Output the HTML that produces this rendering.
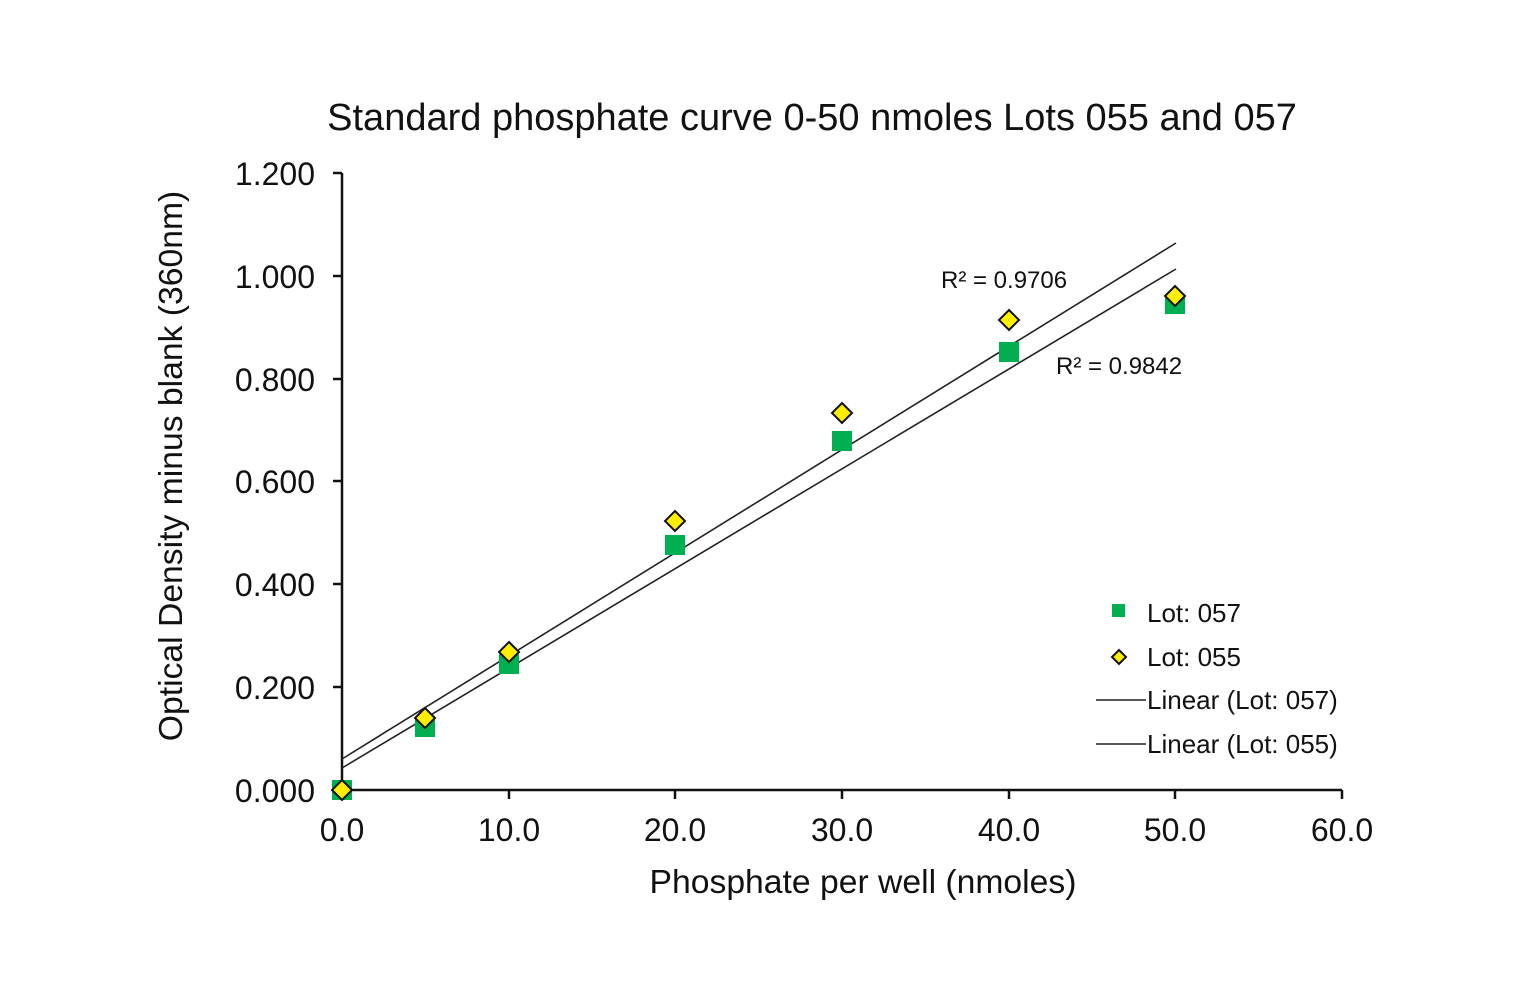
<!DOCTYPE html>
<html><head><meta charset="utf-8"><style>body{margin:0;background:#fff}</style></head><body>
<svg width="1524" height="1000" xmlns="http://www.w3.org/2000/svg" font-family="Liberation Sans, Arial, sans-serif">
<rect width="1524" height="1000" fill="#fff"/>
<text x="812" y="130" font-size="38" text-anchor="middle" fill="#111">Standard phosphate curve 0-50 nmoles Lots 055 and 057</text>
<g stroke="#111" stroke-width="2.5" fill="none">
<line x1="342" y1="173" x2="342" y2="791"/>
<line x1="341" y1="790" x2="1342" y2="790"/>
<line x1="333" y1="173" x2="342" y2="173"/>
<line x1="333" y1="276" x2="342" y2="276"/>
<line x1="333" y1="379" x2="342" y2="379"/>
<line x1="333" y1="481" x2="342" y2="481"/>
<line x1="333" y1="584" x2="342" y2="584"/>
<line x1="333" y1="687" x2="342" y2="687"/>
<line x1="333" y1="790" x2="342" y2="790"/>
<line x1="509" y1="790" x2="509" y2="799"/>
<line x1="675" y1="790" x2="675" y2="799"/>
<line x1="842" y1="790" x2="842" y2="799"/>
<line x1="1009" y1="790" x2="1009" y2="799"/>
<line x1="1175" y1="790" x2="1175" y2="799"/>
<line x1="1342" y1="790" x2="1342" y2="799"/>
</g>
<g font-size="32" fill="#111" text-anchor="end">
<text x="315" y="185">1.200</text><text x="315" y="288">1.000</text><text x="315" y="391">0.800</text>
<text x="315" y="493">0.600</text><text x="315" y="596">0.400</text><text x="315" y="699">0.200</text><text x="315" y="802">0.000</text>
</g>
<g font-size="32" fill="#111" text-anchor="middle">
<text x="342" y="841">0.0</text><text x="509" y="841">10.0</text><text x="675" y="841">20.0</text><text x="842" y="841">30.0</text>
<text x="1009" y="841">40.0</text><text x="1175" y="841">50.0</text><text x="1342" y="841">60.0</text>
</g>
<text x="863" y="893" font-size="33.7" text-anchor="middle" fill="#111">Phosphate per well (nmoles)</text>
<text transform="translate(182,466) rotate(-90)" font-size="33.7" text-anchor="middle" fill="#111">Optical Density minus blank (360nm)</text>
<g stroke="#222" stroke-width="1.6">
<line x1="342" y1="759" x2="1176" y2="243"/>
<line x1="342" y1="768" x2="1176" y2="269"/>
</g>
<g fill="#00b050">
<rect x="332" y="780" width="20" height="20"/>
<rect x="415" y="717" width="20" height="20"/>
<rect x="499" y="654" width="20" height="20"/>
<rect x="665" y="535" width="20" height="20"/>
<rect x="832" y="431" width="20" height="20"/>
<rect x="999" y="342" width="20" height="20"/>
<rect x="1165" y="294" width="20" height="20"/>
<rect x="1112" y="604" width="13" height="13"/>
</g>
<g fill="#ffee00" stroke="#111" stroke-width="2">
<path d="M342 780 l10 10 l-10 10 l-10 -10z"/>
<path d="M425 708 l10 10 l-10 10 l-10 -10z"/>
<path d="M509 642 l10 10 l-10 10 l-10 -10z"/>
<path d="M675 511 l10 10 l-10 10 l-10 -10z"/>
<path d="M842 403 l10 10 l-10 10 l-10 -10z"/>
<path d="M1009 310 l10 10 l-10 10 l-10 -10z"/>
<path d="M1175 286 l10 10 l-10 10 l-10 -10z"/>
<path d="M1119 650 l7 7 l-7 7 l-7 -7z"/>
</g>
<g font-size="24" fill="#111">
<text x="941" y="288">R² = 0.9706</text>
<text x="1056" y="374">R² = 0.9842</text>
</g>
<g font-size="26" fill="#111">
<text x="1147" y="622">Lot: 057</text>
<text x="1147" y="666">Lot: 055</text>
<text x="1147" y="709">Linear (Lot: 057)</text>
<text x="1147" y="753">Linear (Lot: 055)</text>
</g>
<g stroke="#222" stroke-width="1.6">
<line x1="1096" y1="700" x2="1146" y2="700"/>
<line x1="1096" y1="744" x2="1146" y2="744"/>
</g>
</svg>
</body></html>
